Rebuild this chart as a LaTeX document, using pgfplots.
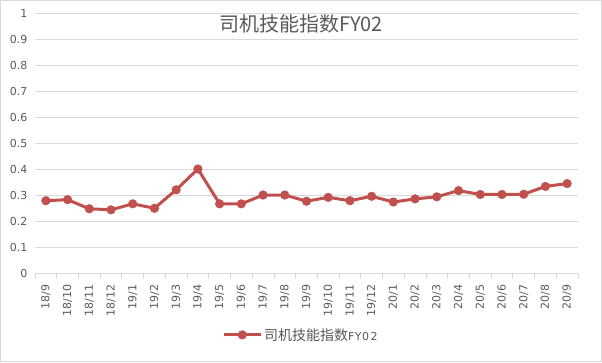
\documentclass[border=0pt]{standalone}
\usepackage{fontspec}
\setmainfont{Carlito}
\newfontfamily\cjk{Noto Sans CJK SC}
\newfontfamily\tickf{DejaVu Sans}
\usepackage{pgfplots}
\pgfplotsset{compat=1.18}
\definecolor{exred}{HTML}{C0504D}
\definecolor{gridc}{HTML}{D9D9D9}
\definecolor{txt}{HTML}{595959}
\begin{document}
\begin{tikzpicture}
\useasboundingbox (0pt,0pt) rectangle (602pt,362pt);
\draw[gridc, line width=0.8pt] (0.5pt,0.5pt) rectangle (601.5pt,361.5pt);
\begin{axis}[
  at={(35pt,89pt)}, anchor=south west,
  scale only axis, width=543pt, height=260pt,
  xmin=-0.5, xmax=24.5, ymin=0, ymax=1,
  ytick={0,0.1,...,1.01},
  yticklabels={0,0.1,0.2,0.3,0.4,0.5,0.6,0.7,0.8,0.9,1},
  ymajorgrids, grid style={gridc, line width=0.8pt},
  axis x line*=bottom,
  axis y line*=left,
  y axis line style={draw=none},
  major y tick style={draw=none},
  x axis line style={gridc, line width=0.8pt, -},
  xtick={0,...,24},
  xticklabels={18/9,18/10,18/11,18/12,19/1,19/2,19/3,19/4,19/5,19/6,19/7,19/8,19/9,19/10,19/11,19/12,20/1,20/2,20/3,20/4,20/5,20/6,20/7,20/8,20/9},
  major x tick style={draw=none},
  minor xtick={-0.5,0.5,...,24.6},
  minor tick length=6pt,
  xtick align=outside,
  minor x tick style={gridc, line width=0.8pt},
  xticklabel style={rotate=90, anchor=east, font=\tickf\fontsize{11}{12}\selectfont, text=txt, xshift=-4pt},
  yticklabel style={font=\tickf\fontsize{11}{12}\selectfont, text=txt, xshift=-4pt},
  /pgf/number format/assume math mode=true,
  title={\cjk 司机技能指数FY02},
  title style={at={(axis description cs:0.49,0.935)}, anchor=center, font=\fontsize{20}{23}\selectfont, text=txt},
  legend style={at={(axis description cs:0.49,-0.238)}, anchor=center, draw=none, font=\fontsize{14}{16}\selectfont, text=txt, legend cell align=left},
  legend image code/.code={\draw[#1, mark repeat=2, mark phase=2] plot coordinates {(0cm,0cm) (0.64cm,0cm) (1.28cm,0cm)};},
]
\addplot[exred, line width=3pt, mark=*, mark size=4.3pt, mark options={fill=exred, draw=exred, line width=0.5pt}] coordinates {
(0,0.278) (1,0.282) (2,0.247) (3,0.243) (4,0.266) (5,0.249) (6,0.320) (7,0.400)
(8,0.266) (9,0.266) (10,0.300) (11,0.300) (12,0.276) (13,0.291) (14,0.278)
(15,0.295) (16,0.273) (17,0.285) (18,0.293) (19,0.317) (20,0.302) (21,0.302)
(22,0.303) (23,0.333) (24,0.344)
};
\addlegendentry{{\cjk 司机技能指数}{\tickf\fontsize{11}{12}\selectfont F\kern0.5pt Y\kern0.5pt 0\kern1.5pt 2}}
\end{axis}
\end{tikzpicture}
\end{document}
